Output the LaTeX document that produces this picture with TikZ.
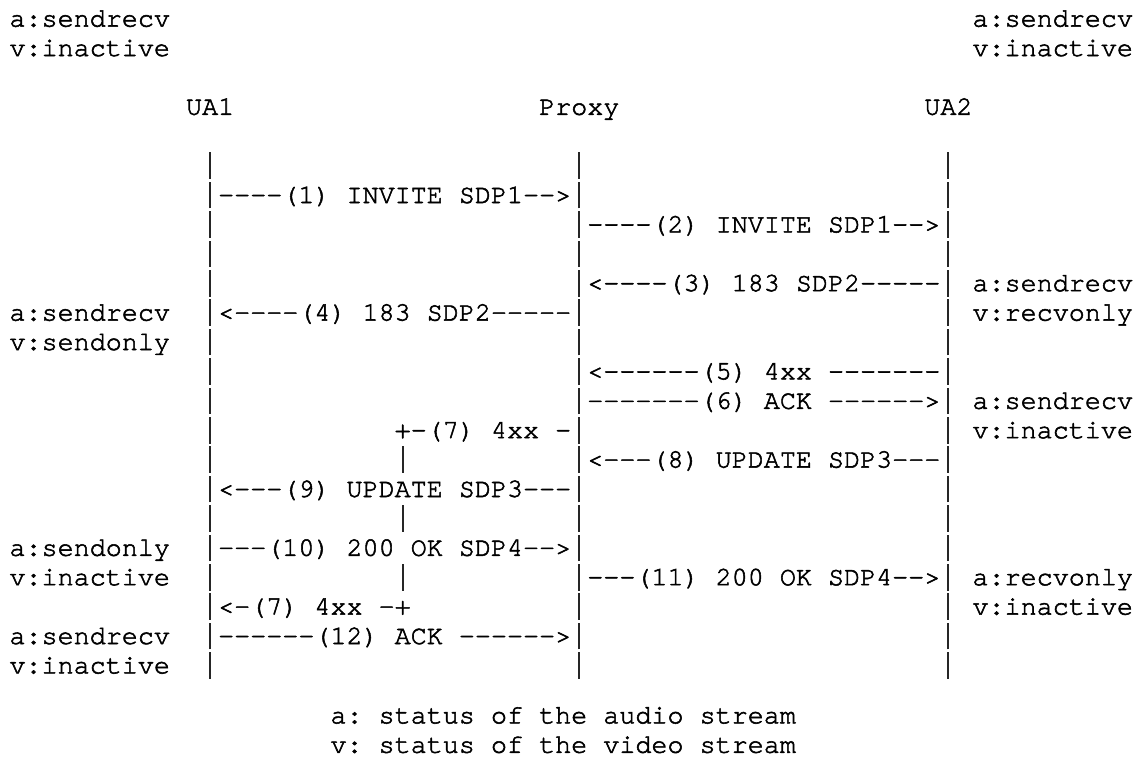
\documentclass[tikz,border=0pt]{standalone}
\usepackage{fontspec}
\setmonofont{texgyrecursor}[Extension=.otf, UprightFont=*-regular, FakeBold=2]
\tikzset{
  cell/.style={anchor=base west, inner sep=0pt, outer sep=0pt,
    font=\ttfamily\fontsize{20.06pt}{22pt}\selectfont, text=black},
  barcell/.style={cell, text=black!85},
}
% place text on a character grid: column #2, row #3 (units are px, y downwards)
\newcommand\putcell[4]{\node[cell] (#1) at ({9.5+16.05*(#2)},{26.6+29.4*(#3)}) {#4};}
% one vertical bar, filling its character cell almost to the next row
\newcommand\vbarglyph{\makebox[12.036pt]{\rule[-4pt]{1.5pt}{19.9pt}}}
\newcommand\putbar[3]{\node[barcell] (#1) at ({9.5+16.05*(#2)},{26.6+29.4*(#3)}) {\vbarglyph};}
\begin{document}
\begin{tikzpicture}[x=0.75pt,y=-0.75pt]
\useasboundingbox (0,0) rectangle (1139,764);

% initial media state of both user agents
\putcell{s0a}{0}{0}{a:sendrecv}
\putcell{s0v}{0}{1}{v:inactive}
\putcell{t0a}{60}{0}{a:sendrecv}
\putcell{t0v}{60}{1}{v:inactive}

% participants
\putcell{ua1}{11}{3}{UA1}
\putcell{proxy}{33}{3}{Proxy}
\putcell{ua2}{57}{3}{UA2}

% lifelines
\foreach \r in {5,...,22} {
  \putbar{ua1-\r}{12}{\r}
  \putbar{px-\r}{35}{\r}
  \putbar{ua2-\r}{58}{\r}
}

% messages
\putcell{m1}{13}{6}{----(1) INVITE SDP1-->}
\putcell{m2}{36}{7}{----(2) INVITE SDP1-->}
\putcell{m3}{36}{9}{<----(3) 183 SDP2-----}
\putcell{m4}{13}{10}{<----(4) 183 SDP2-----}
\putcell{m5}{36}{12}{<------(5) 4xx -------}
\putcell{m6}{36}{13}{-------(6) ACK ------>}
\putcell{m7a}{24}{14}{+-(7) 4xx -}
\putbar{m7b}{24}{15}
\putcell{m8}{36}{15}{<---(8) UPDATE SDP3---}
\putcell{m9}{13}{16}{<---(9) UPDATE SDP3---}
\putbar{m7c}{24}{17}
\putcell{m10}{13}{18}{---(10) 200 OK SDP4-->}
\putbar{m7d}{24}{19}
\putcell{m11}{36}{19}{---(11) 200 OK SDP4-->}
\putcell{m7e}{13}{20}{<-(7) 4xx -+}
\putcell{m12}{13}{21}{------(12) ACK ------>}

% media state changes
\putcell{t1a}{60}{9}{a:sendrecv}
\putcell{s1a}{0}{10}{a:sendrecv}
\putcell{t1v}{60}{10}{v:recvonly}
\putcell{s1v}{0}{11}{v:sendonly}
\putcell{t2a}{60}{13}{a:sendrecv}
\putcell{t2v}{60}{14}{v:inactive}
\putcell{s2a}{0}{18}{a:sendonly}
\putcell{s2v}{0}{19}{v:inactive}
\putcell{t3a}{60}{19}{a:recvonly}
\putcell{t3v}{60}{20}{v:inactive}
\putcell{s3a}{0}{21}{a:sendrecv}
\putcell{s3v}{0}{22}{v:inactive}

% legend
\putcell{leg1}{20}{23.7}{a: status of the audio stream}
\putcell{leg2}{20}{24.7}{v: status of the video stream}
\end{tikzpicture}
\end{document}
